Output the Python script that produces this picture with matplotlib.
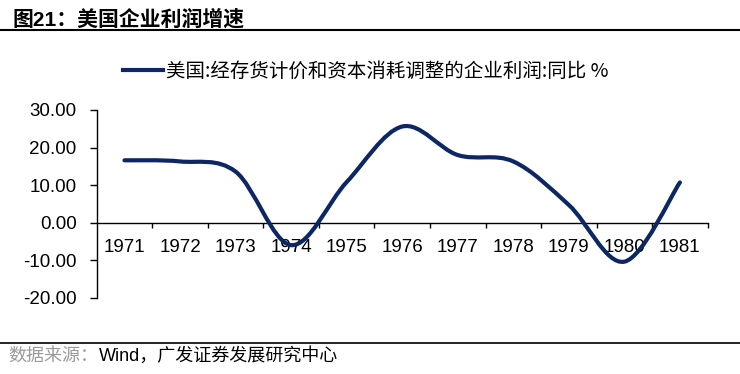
import numpy as np
import matplotlib
matplotlib.use("Agg")
import matplotlib.pyplot as plt
from matplotlib.path import Path
from matplotlib.patches import PathPatch
from matplotlib.lines import Line2D
from matplotlib.ticker import FixedLocator, FormatStrFormatter

years = ['1971', '1972', '1973', '1974', '1975', '1976', '1977', '1978', '1979', '1980', '1981']
profit_yoy = [16.6, 16.3, 13.6, -6.0, 10.8, 25.6, 18.0, 16.3, 4.7, -10.4, 10.7]
series_label = '美国:经存货计价和资本消耗调整的企业利润:同比 %'
title_text = '图21：美国企业利润增速'
source_gray = '数据来源：'
source_rest = 'Wind，广发证券发展研究中心'

LINE_COLOR = '#0c2764'
W, H = 740, 374
LAT = ['Liberation Sans', 'Noto Sans CJK SC']

fig = plt.figure(figsize=(W / 100, H / 100), dpi=100)
ax = fig.add_axes([96.7 / W, 1 - 297.7 / H, 611 / W, 187.7 / H])

n = len(years)
xs = np.arange(n) + 0.5
ys = np.array(profit_yoy, dtype=float)

# smoothed line (Bezier through data points, Excel-like smoothing)
P = np.column_stack([xs, ys])
Pe = np.vstack([P[0], P, P[-1]])
verts = [tuple(P[0])]
codes = [Path.MOVETO]
for i in range(n - 1):
    p0, p1, p2, p3 = Pe[i], Pe[i + 1], Pe[i + 2], Pe[i + 3]
    c1 = p1 + (p2 - p0) / 6.0
    c2 = p2 - (p3 - p1) / 6.0
    verts += [tuple(c1), tuple(c2), tuple(p2)]
    codes += [Path.CURVE4] * 3
ax.add_patch(PathPatch(Path(verts, codes), fill=False, edgecolor=LINE_COLOR,
                       linewidth=3.0, capstyle='round', joinstyle='round', zorder=3))

ax.set_xlim(0, n)
ax.set_ylim(-20, 30)

for s in ['top', 'right']:
    ax.spines[s].set_visible(False)
ax.spines['bottom'].set_position(('data', 0))
ax.spines['bottom'].set_linewidth(1.0)
ax.spines['left'].set_linewidth(1.0)

ax.yaxis.set_major_locator(FixedLocator([-20, -10, 0, 10, 20, 30]))
ax.yaxis.set_major_formatter(FormatStrFormatter('%.2f'))
ax.tick_params(axis='y', direction='out', length=5, width=1, pad=9.4, labelsize=13.5)

ax.xaxis.set_major_locator(FixedLocator(np.arange(1, n + 1)))
ax.xaxis.set_minor_locator(FixedLocator(xs))
ax.set_xticklabels([], minor=False)
ax.set_xticklabels(years, minor=True)
ax.tick_params(axis='x', which='major', direction='out', length=3.8, width=1)
ax.tick_params(axis='x', which='minor', length=0, pad=12, labelsize=13.5)

for lab in ax.get_xticklabels(minor=True) + ax.get_yticklabels():
    lab.set_family(LAT)

# legend
handle = Line2D([], [], color=LINE_COLOR, linewidth=3.0)
fig.legend([handle], [series_label], loc='center left',
           bbox_to_anchor=(123 / W, 1 - 71 / H), frameon=False,
           borderpad=0, borderaxespad=0, handlelength=2.05, handletextpad=0.15,
           prop={'family': ['Noto Sans CJK SC', 'DejaVu Sans'], 'size': 14})

# title and rules
fig.text(12 / W, 1 - 19 / H, title_text, ha='left', va='center', fontsize=15,
         fontweight='bold', family=LAT)
fig.add_artist(Line2D([0, 1], [1 - 30 / H] * 2, transform=fig.transFigure,
                      color='black', linewidth=1.5))
fig.add_artist(Line2D([0, 1], [1 - 342.5 / H] * 2, transform=fig.transFigure,
                      color='black', linewidth=1.2))

# source
t1 = fig.text(8 / W, 1 - 356 / H, source_gray, ha='left', va='center', fontsize=13,
              color='#9a9a9a', family=LAT)
fig.canvas.draw()
bb = t1.get_window_extent()
fig.text(bb.x1 / W + 1 / W, 1 - 356 / H, source_rest, ha='left', va='center',
         fontsize=13, color='black', family=LAT)

fig.savefig('out.png', dpi=100)
